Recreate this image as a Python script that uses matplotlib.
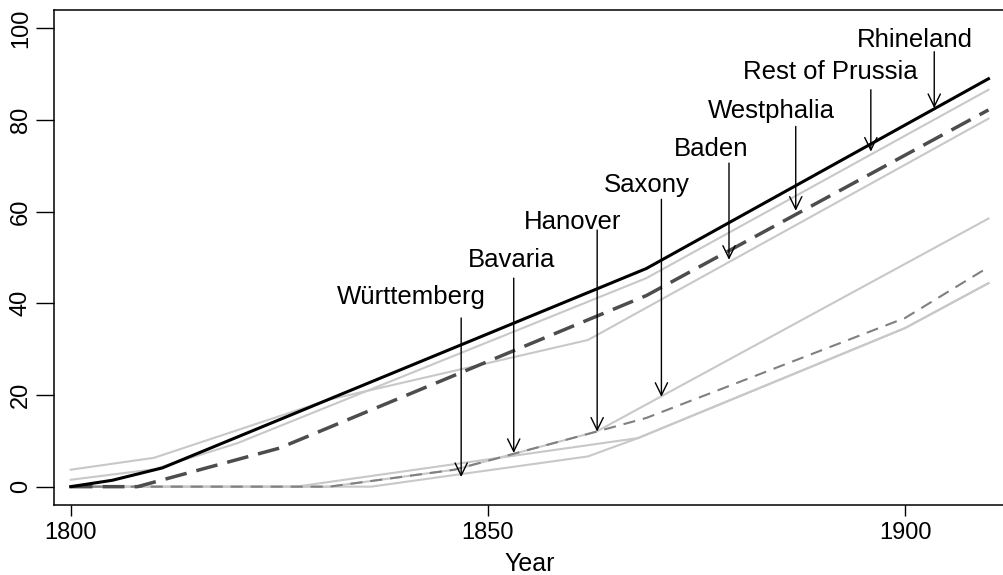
import matplotlib
matplotlib.use("Agg")
import matplotlib.pyplot as plt

plt.rcParams["font.family"] = ["Liberation Sans", "DejaVu Sans"]

# ---------------- DATA ----------------
rhineland_years = [1800, 1805, 1811, 1869, 1910]
rhineland_vals = [0, 1.4, 4.1, 47.6, 89.0]

westphalia_years = [1800, 1808, 1825, 1869, 1910]
westphalia_vals = [0, 0, 8.4, 41.7, 82.2]

prussia_years = [1800, 1810, 1820, 1869, 1910]
prussia_vals = [1.5, 3.8, 9.5, 45.5, 86.6]

baden_years = [1800, 1810, 1831, 1862, 1910]
baden_vals = [3.7, 6.3, 19.0, 32.0, 80.3]

saxony_years = [1800, 1831, 1846, 1863, 1910]
saxony_vals = [0, 0, 3.7, 12.0, 58.5]

hanover_years = [1800, 1831, 1846, 1863, 1869, 1900, 1910]
hanover_vals = [0, 0, 3.7, 12.0, 15.0, 36.8, 47.9]

bavaria_years = [1800, 1827, 1868, 1900, 1910]
bavaria_vals = [0, 0, 10.6, 34.6, 44.4]

wurttemberg_years = [1800, 1836, 1862, 1868, 1900, 1910]
wurttemberg_vals = [0, 0, 6.6, 10.6, 34.6, 44.4]

labels = ["Württemberg", "Bavaria", "Hanover", "Saxony",
          "Baden", "Westphalia", "Rest of Prussia", "Rhineland"]

# ---------------- FIGURE ----------------
fig = plt.figure(figsize=(10.04, 5.75), dpi=100)
ax = fig.add_axes([54 / 1004, 1 - 505 / 575, (1006 - 54) / 1004, 495 / 575])

grey = "#c8c8c8"
ax.plot(wurttemberg_years, wurttemberg_vals, color=grey, lw=1.5)
ax.plot(bavaria_years, bavaria_vals, color=grey, lw=1.5)
ax.plot(saxony_years, saxony_vals, color=grey, lw=1.5)
ax.plot(baden_years, baden_vals, color=grey, lw=1.5)
ax.plot(prussia_years, prussia_vals, color=grey, lw=1.5)
ax.plot(hanover_years, hanover_vals, color="#808080", lw=1.5, dashes=(5.8, 3.8))
ax.plot(westphalia_years, westphalia_vals, color="#4d4d4d", lw=2.5, dashes=(6.3, 2.9))
ax.plot(rhineland_years, rhineland_vals, color="black", lw=2.2)

# label text positions and arrow tips (year, value)
text_x = [1840.8, 1852.8, 1860.2, 1869.0, 1876.8, 1884.0, 1891.05, 1901.2]
text_y = [42.0, 49.9, 58.4, 66.3, 74.2, 82.6, 91.1, 98.1]
tip_x = [1846.8, 1853.1, 1863.1, 1870.8, 1878.9, 1886.9, 1895.9, 1903.5]
tip_y = [2.1, 7.35, 12.0, 19.6, 49.5, 60.2, 73.1, 82.6]
tail_y = [36.8, 45.5, 56.0, 62.7, 70.6, 78.6, 86.6, 94.9]

for lab, tx, ty, ax_, ay, tl in zip(labels, text_x, text_y, tip_x, tip_y, tail_y):
    ax.text(tx, ty, lab, ha="center", va="center_baseline", fontsize=18.5)
    ax.annotate("", xy=(ax_, ay), xytext=(ax_, tl),
                arrowprops=dict(arrowstyle="->,head_length=0.45,head_width=0.22",
                                color="black", lw=1.0, mutation_scale=20,
                                shrinkA=0, shrinkB=0))

ax.set_xlim(1798.0, 1912.1)
ax.set_ylim(-4, 104)
ax.set_xticks([1800, 1850, 1900])
ax.set_yticks([0, 20, 40, 60, 80, 100])
ax.tick_params(axis="x", length=8, width=1.0, pad=4, labelsize=17)
ax.tick_params(axis="y", length=13, width=1.0, pad=3, labelsize=17)
for t in ax.get_yticklabels():
    t.set_rotation(90)
    t.set_va("center")
for s in ax.spines.values():
    s.set_linewidth(1.1)
ax.set_xlabel("Year", fontsize=18, labelpad=6)

fig.savefig("out.png", dpi=100)
